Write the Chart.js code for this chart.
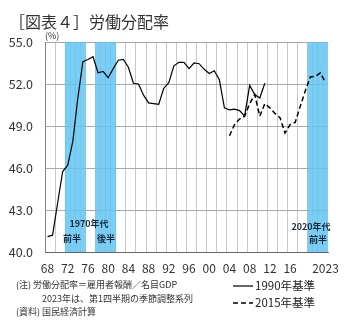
<!DOCTYPE html>
<html>
<head>
<meta charset="utf-8">
<script src="https://cdn.jsdelivr.net/npm/chart.js@4"></script>
<style>
  body { margin: 0; background: #fff; }
  canvas { display: block; }
</style>
</head>
<body>
<canvas id="chart" width="351" height="332"></canvas>
<script>
// 年（カテゴリ）
const years = [1968, 1969, 1970, 1971, 1972, 1973, 1974, 1975, 1976, 1977,
  1978, 1979, 1980, 1981, 1982, 1983, 1984, 1985, 1986, 1987,
  1988, 1989, 1990, 1991, 1992, 1993, 1994, 1995, 1996, 1997,
  1998, 1999, 2000, 2001, 2002, 2003, 2004, 2005, 2006, 2007,
  2008, 2009, 2010, 2011, 2012, 2013, 2014, 2015, 2016, 2017,
  2018, 2019, 2020, 2021, 2022, 2023];

// 目盛ラベル
const tickYears = [1968, 1972, 1976, 1980, 1984, 1988, 1992, 1996, 2000, 2004, 2008, 2012, 2016, 2023];
const tickText = ['68', '72', '76', '80', '84', '88', '92', '96', '00', '04', '08', '12', '16', '2023'];

// 1990年基準 (1968-2011)
const start1990 = 1968;
const base1990 = [41.1, 41.2, 43.5, 45.75, 46.2, 47.9, 51.0, 53.6, 53.75, 53.95,
  52.8, 52.9, 52.45, 53.1, 53.7, 53.75, 53.2, 52.05, 52.0, 51.2,
  50.65, 50.6, 50.55, 51.7, 52.1, 53.3, 53.55, 53.55, 53.1, 53.5,
  53.45, 53.05, 52.75, 52.95, 52.3, 50.3, 50.15, 50.2, 50.1, 49.7,
  51.9, 51.25, 51.0, 52.05];

// 2015年基準 (2004-2023)
const start2015 = 2004;
const base2015 = [48.3, 49.1, 49.5, 49.7, 50.6, 51.25, 49.7, 50.6, 50.3, 49.9,
  49.6, 48.5, 49.1, 49.25, 50.4, 51.5, 52.5, 52.55, 52.8, 52.1];

// 網掛け期間
const bandStart = [1972, 1978, 2020];
const bandEnd = [1975, 1981, 2023];

const yMin = 40, yMax = 55;

function seriesFor(startYear, values) {
  return years.map(y => {
    const v = values[y - startYear];
    return v === undefined ? null : v;
  });
}

const bandData = years.map(y => {
  for (let i = 0; i < bandStart.length; i++) {
    if (y >= bandStart[i] && y <= bandEnd[i]) return [yMin, yMax];
  }
  return null;
});

const FONT = "'Noto Sans CJK JP', 'Noto Sans', sans-serif";

// 見出し・注記・凡例
const textPlugin = {
  id: 'texts',
  afterDraw(chart) {
    const ctx = chart.ctx;
    const x = chart.scales.x;
    ctx.save();
    ctx.fillStyle = '#333';
    ctx.textBaseline = 'middle';

    ctx.font = '16px ' + FONT;
    ctx.textAlign = 'left';
    ctx.fillText('［図表４］労働分配率', 9, 22);

    ctx.font = '9px ' + FONT;
    ctx.fillText('(%)', 45, 36);

    // 網掛けラベル
    ctx.fillStyle = '#1a2a3a';
    ctx.font = 'bold 9px ' + FONT;
    ctx.textAlign = 'center';
    ctx.fillText('1970年代', 89, 224);
    ctx.fillText('前半', 72, 239);
    ctx.fillText('後半', 106, 239);
    ctx.fillText('2020年代', 311, 227);
    ctx.fillText('前半', 318, 240);

    // 注記
    ctx.fillStyle = '#333';
    ctx.font = '9px ' + FONT;
    ctx.textAlign = 'left';
    ctx.fillText('(注) 労働分配率＝雇用者報酬／名目GDP', 16, 285);
    ctx.fillText('2023年は、第1四半期の季節調整系列', 42, 299);
    ctx.fillText('(資料) 国民経済計算', 16, 312);

    // 凡例
    const items = [chart.data.datasets[0], chart.data.datasets[1]];
    items.forEach((ds, i) => {
      const yy = 286 + i * 17;
      ctx.strokeStyle = ds.borderColor;
      ctx.lineWidth = ds.borderWidth;
      ctx.setLineDash(ds.borderDash || []);
      ctx.beginPath();
      ctx.moveTo(233, yy);
      ctx.lineTo(253, yy);
      ctx.stroke();
      ctx.setLineDash([]);
      ctx.fillStyle = '#222';
      ctx.font = '11.5px ' + FONT;
      ctx.fillText(ds.label, 255, yy);
    });
    ctx.restore();
  }
};

new Chart(document.getElementById('chart'), {
  data: {
    labels: years,
    datasets: [
      {
        type: 'line',
        label: '1990年基準',
        data: seriesFor(start1990, base1990),
        borderColor: '#000',
        borderWidth: 1.2,
        pointRadius: 0,
        tension: 0,
        spanGaps: false,
        order: 1
      },
      {
        type: 'line',
        label: '2015年基準',
        data: seriesFor(start2015, base2015),
        borderColor: '#000',
        borderWidth: 1.5,
        borderDash: [5, 3],
        pointRadius: 0,
        tension: 0,
        order: 2
      },
      {
        type: 'bar',
        label: 'band',
        data: bandData,
        backgroundColor: 'rgba(100,196,242,0.85)',
        borderWidth: 0,
        barPercentage: 1,
        categoryPercentage: 1,
        order: 3
      }
    ]
  },
  options: {
    responsive: false,
    animation: false,
    devicePixelRatio: 1,
    layout: { padding: { top: 42, right: 23, bottom: 0, left: 0 } },
    plugins: {
      legend: { display: false },
      tooltip: { enabled: false }
    },
    scales: {
      x: {
        type: 'category',
        offset: true,
        afterFit(scale) { scale.height = 80; },
        grid: {
          offset: true,
          drawTicks: false,
          lineWidth: 1,
          color(c) {
            if (c.index === years.length) return '#555';
            return c.index % 2 === 0 ? '#c8c8c8' : 'rgba(0,0,0,0)';
          }
        },
        border: { display: true, color: '#666', width: 1 },
        ticks: {
          autoSkip: false,
          maxRotation: 0,
          padding: 9,
          color: '#333',
          font: { family: FONT, size: 12 },
          callback(value, index) {
            const k = tickYears.indexOf(years[index]);
            return k < 0 ? '' : tickText[k];
          }
        }
      },
      y: {
        min: yMin,
        max: yMax,
        afterFit(scale) { scale.width = 45; },
        grid: { drawTicks: false, color: '#a8a8a8', lineWidth: 1 },
        border: { display: true, color: '#888', width: 1 },
        ticks: {
          stepSize: 3,
          padding: 12,
          color: '#333',
          font: { family: FONT, size: 12.5 },
          callback(v) { return v.toFixed(1); }
        }
      }
    }
  },
  plugins: [textPlugin]
});
</script>
</body>
</html>
